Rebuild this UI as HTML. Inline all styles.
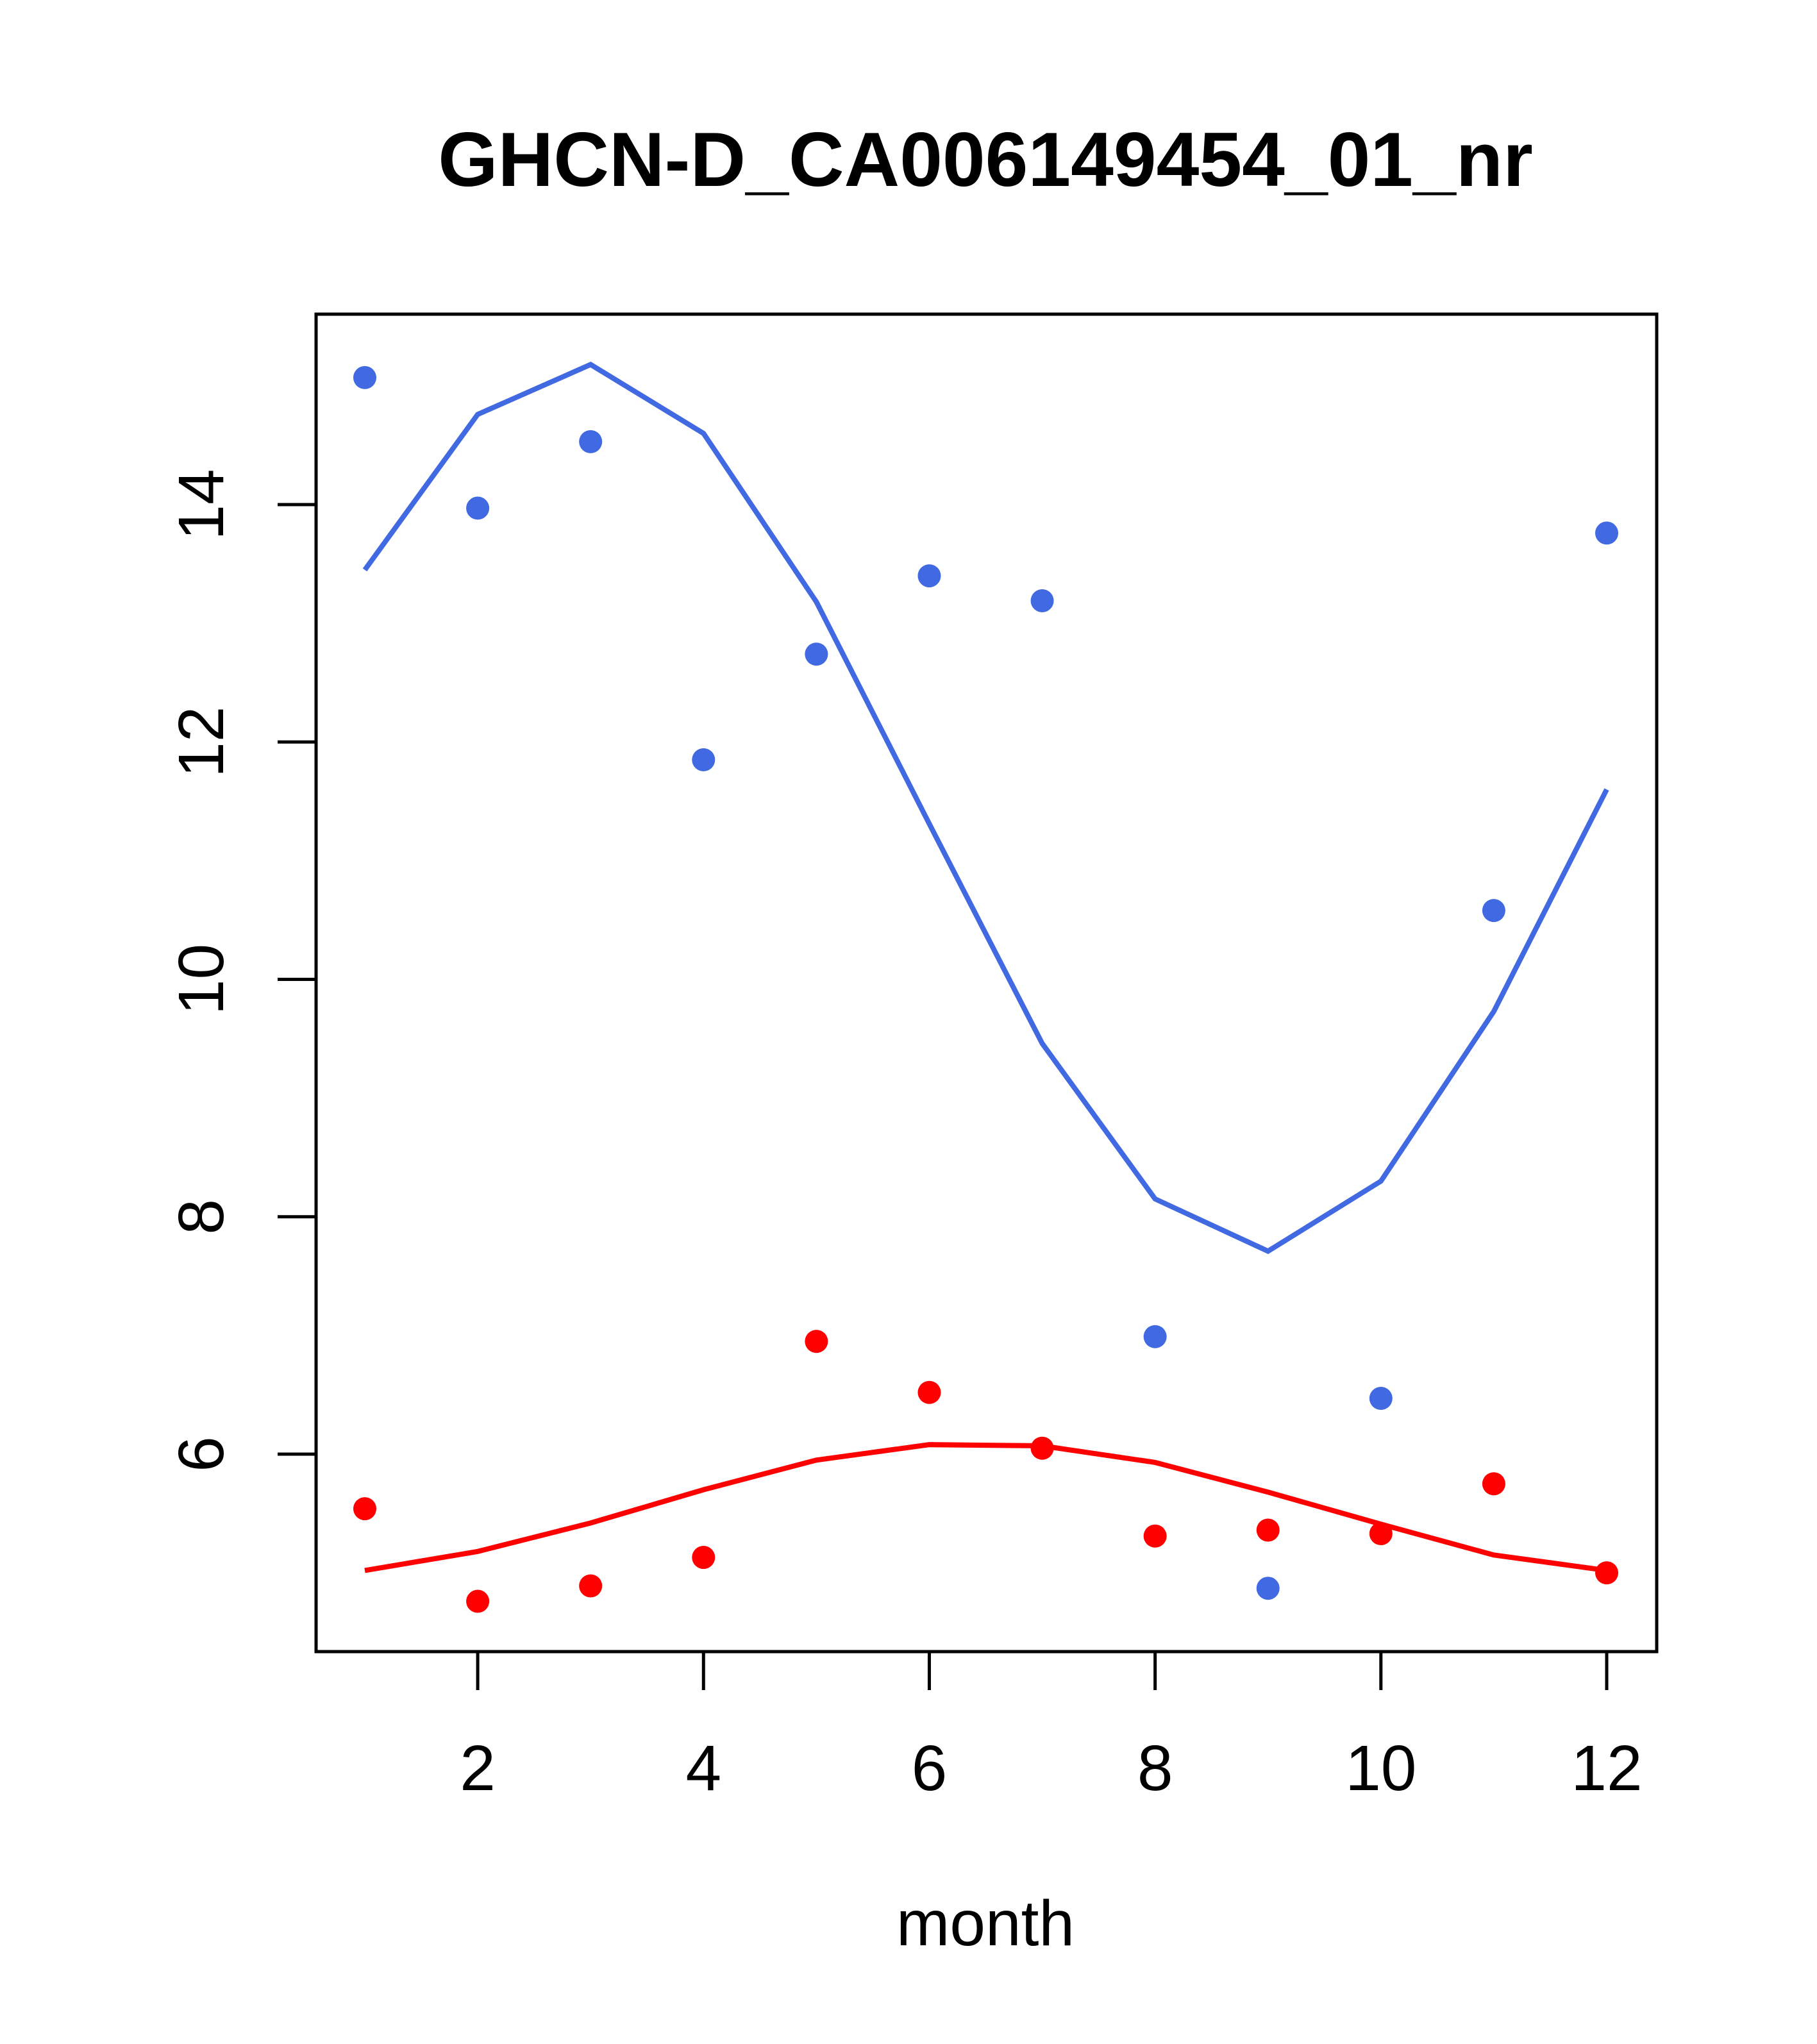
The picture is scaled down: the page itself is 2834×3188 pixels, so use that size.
<!DOCTYPE html>
<html><head><meta charset="utf-8"><style>
html,body{margin:0;padding:0;background:#fff;}
svg{display:block;}
text{font-family:"Liberation Sans",sans-serif;}
</style></head>
<body>
<svg id="chart" width="2834" height="3188" viewBox="0 0 2834 3188" xmlns="http://www.w3.org/2000/svg">
<rect width="2834" height="3188" fill="#fff"/>
<text x="1537" y="290" font-size="120" font-weight="bold" text-anchor="middle">GHCN-D_CA006149454_01_nr</text>
<g id="plot"></g>
<text x="1537" y="3034" font-size="100" text-anchor="middle">month</text>
</svg>
<script>
const months=[1,2,3,4,5,6,7,8,9,10,11,12];
const bluePoints=[15.07,13.97,14.53,11.85,12.74,13.40,13.19,6.99,4.87,6.47,10.58,13.76];
const blueLine=[13.45,14.76,15.18,14.60,13.18,11.31,9.46,8.15,7.71,8.30,9.73,11.60];
const redPoints=[5.54,4.76,4.89,5.13,6.95,6.52,6.05,5.31,5.36,5.33,5.75,5.00];
const redLine=[5.02,5.18,5.42,5.70,5.95,6.08,6.07,5.93,5.68,5.41,5.15,5.02];
const xTicks=[2,4,6,8,10,12];
const yTicks=[6,8,10,12,14];

const NS="http://www.w3.org/2000/svg";
const L=493,R=2584,T=490,B=2576;
function sx(m){return 569+(m-1)*(2506-569)/11;}
function sy(v){return 2268-(v-6)*(2268-787)/8;}
const g=document.getElementById('plot');
function mk(tag,attrs){const e=document.createElementNS(NS,tag);for(const k in attrs)e.setAttribute(k,attrs[k]);g.appendChild(e);return e;}

const box=mk('rect',{x:L,y:T,width:R-L,height:B-T,fill:'none',stroke:'#000','stroke-width':5});



xTicks.forEach(t=>{
  const ln=mk('line',{x1:sx(t),x2:sx(t),y1:B,y2:B+60,stroke:'#000','stroke-width':5});
  
  
  const tx=mk('text',{x:sx(t),y:2792,'font-size':100,'text-anchor':'middle'});
  tx.textContent=t;
  
  
});
yTicks.forEach(t=>{
  const ln=mk('line',{x1:L-60,x2:L,y1:sy(t),y2:sy(t),stroke:'#000','stroke-width':5});
  
  
  const tx=mk('text',{x:0,y:0,'font-size':100,'text-anchor':'middle',transform:`translate(348,${sy(t)}) rotate(-90)`});
  tx.textContent=t;
  
  
});

function line(vals,color,name){
  const p=mk('polyline',{points:vals.map((v,i)=>sx(months[i])+','+sy(v)).join(' '),fill:'none',stroke:color,'stroke-width':8});
  
  
}
function pts(vals,color,name){
  vals.forEach((v,i)=>{
    const c=mk('circle',{cx:sx(months[i]),cy:sy(v),r:18,fill:color});
    
    
  });
}
line(blueLine,'#4169E1','blue-fit-line');
line(redLine,'#FF0000','red-fit-line');
pts(bluePoints,'#4169E1','blue-point');
pts(redPoints,'#FF0000','red-point');
</script>
</body></html>
